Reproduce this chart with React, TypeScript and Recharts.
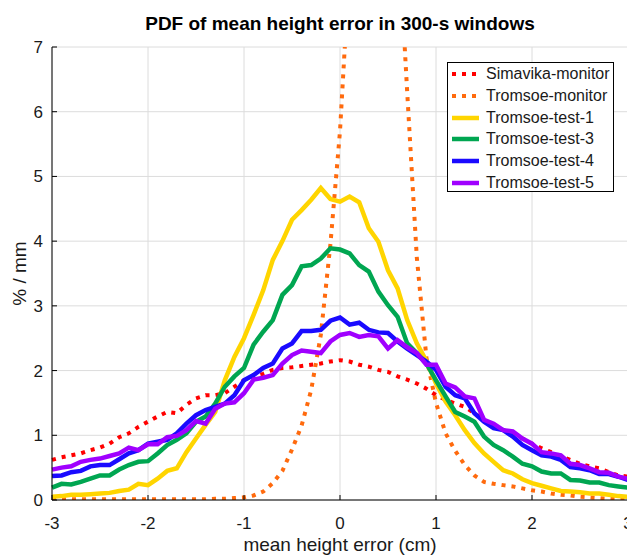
import React from "react";
import { LineChart, Line, XAxis, YAxis, CartesianGrid } from "recharts";

// mean height error (cm), one point every 0.1 cm
const errorCm = [
  -3, -2.9, -2.8, -2.7, -2.6, -2.5, -2.4, -2.3, -2.2, -2.1,
  -2, -1.9, -1.8, -1.7, -1.6, -1.5, -1.4, -1.3, -1.2, -1.1,
  -1, -0.9, -0.8, -0.7, -0.6, -0.5, -0.4, -0.3, -0.2, -0.1,
  0, 0.1, 0.2, 0.3, 0.4, 0.5, 0.6, 0.7, 0.8, 0.9,
  1, 1.1, 1.2, 1.3, 1.4, 1.5, 1.6, 1.7, 1.8, 1.9,
  2, 2.1, 2.2, 2.3, 2.4, 2.5, 2.6, 2.7, 2.8, 2.9, 3,
];

// PDF values in % / mm
const simavikaMonitor = [
  0.62, 0.66, 0.69, 0.72, 0.77, 0.81, 0.87, 0.97, 1.03, 1.13,
  1.21, 1.29, 1.36, 1.34, 1.47, 1.57, 1.62, 1.62, 1.65, 1.75,
  1.85, 1.91, 1.95, 2.01, 2.04, 2.05, 2.07, 2.09, 2.11, 2.14,
  2.16, 2.14, 2.09, 2.06, 2.01, 1.98, 1.91, 1.86, 1.8, 1.72,
  1.62, 1.55, 1.49, 1.44, 1.34, 1.24, 1.13, 1.08, 1.03, 0.95,
  0.87, 0.8, 0.74, 0.68, 0.62, 0.56, 0.52, 0.49, 0.43, 0.38, 0.36,
];
const tromsoeMonitor = [
  0.01, 0.01, 0.01, 0.01, 0.01, 0.01, 0.01, 0.01, 0.01, 0.01,
  0.01, 0.01, 0.01, 0.01, 0.01, 0.01, 0.01, 0.02, 0.02, 0.03,
  0.04, 0.07, 0.13, 0.26, 0.45, 0.78, 1.15, 1.7, 2.55, 3.95,
  5.7, 8.3, 10.5, 11.5, 11.3, 10.3, 9.0, 6.3, 3.75, 2.2,
  1.5, 1.03, 0.76, 0.54, 0.38, 0.28, 0.25, 0.23, 0.21, 0.18,
  0.15, 0.13, 0.1, 0.08, 0.07, 0.05, 0.04, 0.03, 0.02, 0.01, 0.01,
];
const tromsoeTest1 = [
  0.05, 0.06, 0.08, 0.08, 0.09, 0.1, 0.11, 0.14, 0.16, 0.25,
  0.23, 0.33, 0.45, 0.49, 0.74, 0.95, 1.16, 1.36, 1.85, 2.21,
  2.5, 2.86, 3.24, 3.71, 4.0, 4.33, 4.48, 4.64, 4.82, 4.65,
  4.61, 4.69, 4.6, 4.2, 3.99, 3.55, 3.27, 2.78, 2.42, 2.15,
  1.8, 1.52, 1.31, 1.08, 0.88, 0.72, 0.59, 0.46, 0.41, 0.32,
  0.26, 0.22, 0.18, 0.14, 0.13, 0.12, 0.1, 0.1, 0.08, 0.06, 0.05,
];
const tromsoeTest3 = [
  0.19, 0.25, 0.24, 0.28, 0.33, 0.38, 0.38, 0.47, 0.54, 0.59,
  0.6, 0.72, 0.85, 0.93, 1.03, 1.21, 1.29, 1.49, 1.75, 1.91,
  2.04, 2.4, 2.6, 2.78, 3.17, 3.32, 3.61, 3.63, 3.73, 3.89,
  3.87, 3.81, 3.63, 3.53, 3.22, 3.01, 2.83, 2.42, 2.27, 2.11,
  1.85, 1.6, 1.36, 1.29, 1.21, 0.98, 0.85, 0.77, 0.67, 0.56,
  0.52, 0.44, 0.41, 0.41, 0.31, 0.3, 0.27, 0.27, 0.23, 0.21, 0.19,
];
const tromsoeTest4 = [
  0.37, 0.38, 0.43, 0.45, 0.52, 0.54, 0.54, 0.63, 0.72, 0.77,
  0.87, 0.9, 0.93, 1.03, 1.18, 1.31, 1.39, 1.44, 1.49, 1.62,
  1.85, 1.93, 2.04, 2.11, 2.34, 2.42, 2.61, 2.61, 2.63, 2.77,
  2.82, 2.71, 2.74, 2.63, 2.59, 2.58, 2.45, 2.34, 2.24, 2.14,
  2.01, 1.75, 1.62, 1.57, 1.34, 1.21, 1.11, 1.08, 0.98, 0.85,
  0.77, 0.69, 0.67, 0.62, 0.51, 0.49, 0.46, 0.4, 0.4, 0.36, 0.31,
];
const tromsoeTest5 = [
  0.47, 0.5, 0.52, 0.59, 0.62, 0.64, 0.68, 0.72, 0.81, 0.77,
  0.86, 0.86, 0.97, 0.99, 1.08, 1.22, 1.18, 1.41, 1.49, 1.51,
  1.65, 1.86, 1.89, 1.93, 2.11, 2.24, 2.31, 2.29, 2.27, 2.45,
  2.55, 2.58, 2.52, 2.55, 2.53, 2.34, 2.47, 2.36, 2.27, 2.09,
  2.09, 1.8, 1.74, 1.6, 1.57, 1.24, 1.18, 1.08, 1.06, 0.95,
  0.87, 0.74, 0.72, 0.69, 0.56, 0.54, 0.49, 0.43, 0.42, 0.36, 0.33,
];

const xTicks = [-3, -2, -1, 0, 1, 2, 3];
const yTicks = [0, 1, 2, 3, 4, 5, 6, 7];

const series = [
  { key: "sim", name: "Simavika-monitor", color: "#ff0000", dotted: true, values: simavikaMonitor },
  { key: "tmon", name: "Tromsoe-monitor", color: "#ff6a0d", dotted: true, values: tromsoeMonitor },
  { key: "t1", name: "Tromsoe-test-1", color: "#ffd500", dotted: false, values: tromsoeTest1 },
  { key: "t3", name: "Tromsoe-test-3", color: "#00a651", dotted: false, values: tromsoeTest3 },
  { key: "t4", name: "Tromsoe-test-4", color: "#1a0aff", dotted: false, values: tromsoeTest4 },
  { key: "t5", name: "Tromsoe-test-5", color: "#a000ff", dotted: false, values: tromsoeTest5 },
];

const data = errorCm.map((x, i) => {
  const row: Record<string, number> = { x };
  series.forEach((s) => {
    row[s.key] = s.values[i];
  });
  return row;
});

const FONT = '"Liberation Sans", Arial, Helvetica, sans-serif';
const noLabel = () => <g />;

export default function App() {
  return (
    <div
      style={{
        position: "fixed",
        left: 0,
        top: 0,
        width: 627,
        height: 556,
        overflow: "hidden",
        background: "#fff",
        fontFamily: FONT,
      }}
    >
      <LineChart
        width={640}
        height={556}
        data={data}
        margin={{ top: 47, right: 0, bottom: 0, left: 0 }}
      >
        <CartesianGrid stroke="#dcdcdc" strokeWidth={1} />
        <XAxis
          dataKey="x"
          type="number"
          domain={[-3, 3]}
          ticks={xTicks}
          height={56}
          stroke="#000"
          tickSize={-5}
          tickMargin={22}
          tick={{ fill: "#1a1a1a", fontSize: 17 }}
        />
        <XAxis
          xAxisId="top"
          orientation="top"
          type="number"
          domain={[-3, 3]}
          ticks={xTicks}
          height={0}
          stroke="#000"
          tickSize={-5}
          tick={noLabel}
        />
        <YAxis
          type="number"
          domain={[0, 7]}
          ticks={yTicks}
          allowDataOverflow
          width={52}
          stroke="#000"
          tickSize={-5}
          tickMargin={14}
          tick={{ fill: "#1a1a1a", fontSize: 17 }}
        />
        <YAxis
          yAxisId="right"
          orientation="right"
          type="number"
          domain={[0, 7]}
          ticks={yTicks}
          width={12}
          stroke="#000"
          tickSize={-5}
          tick={noLabel}
        />
        {series.map((s) => (
          <Line
            key={s.key}
            dataKey={s.key}
            name={s.name}
            type="linear"
            stroke={s.color}
            strokeWidth={s.dotted ? 4 : 4.5}
            strokeDasharray={s.dotted ? "4 6" : undefined}
            strokeLinecap="butt"
            dot={false}
            activeDot={false}
            isAnimationActive={false}
          />
        ))}
      </LineChart>

      {/* title and axis labels */}
      <svg
        width={627}
        height={556}
        style={{ position: "absolute", left: 0, top: 0, pointerEvents: "none" }}
      >
        <text x={340} y={29.5} textAnchor="middle" fontSize={19} fontWeight="bold" fill="#000">
          PDF of mean height error in 300-s windows
        </text>
        <text x={340} y={551} textAnchor="middle" fontSize={19} fill="#1a1a1a">
          mean height error (cm)
        </text>
        <text
          x={26}
          y={273.5}
          textAnchor="middle"
          fontSize={19}
          fill="#1a1a1a"
          transform="rotate(-90 26 273.5)"
        >
          % / mm
        </text>
      </svg>

      {/* legend box */}
      <div
        style={{
          position: "absolute",
          left: 447,
          top: 62,
          width: 165,
          height: 128,
          border: "1px solid #000",
          background: "#fff",
        }}
      >
        {series.map((s, i) => (
          <div
            key={s.key}
            style={{
              position: "absolute",
              left: 3,
              top: 0.5 + i * 21.7,
              height: 21.7,
              display: "flex",
              alignItems: "center",
              whiteSpace: "nowrap",
              fontSize: 16,
              color: "#1a1a1a",
            }}
          >
            <svg width={32} height={8} style={{ marginRight: 3 }}>
              <line
                x1={1}
                y1={4}
                x2={28}
                y2={4}
                stroke={s.color}
                strokeWidth={s.dotted ? 4 : 4.5}
                strokeDasharray={s.dotted ? "4 6" : undefined}
              />
            </svg>
            {s.name}
          </div>
        ))}
      </div>
    </div>
  );
}
